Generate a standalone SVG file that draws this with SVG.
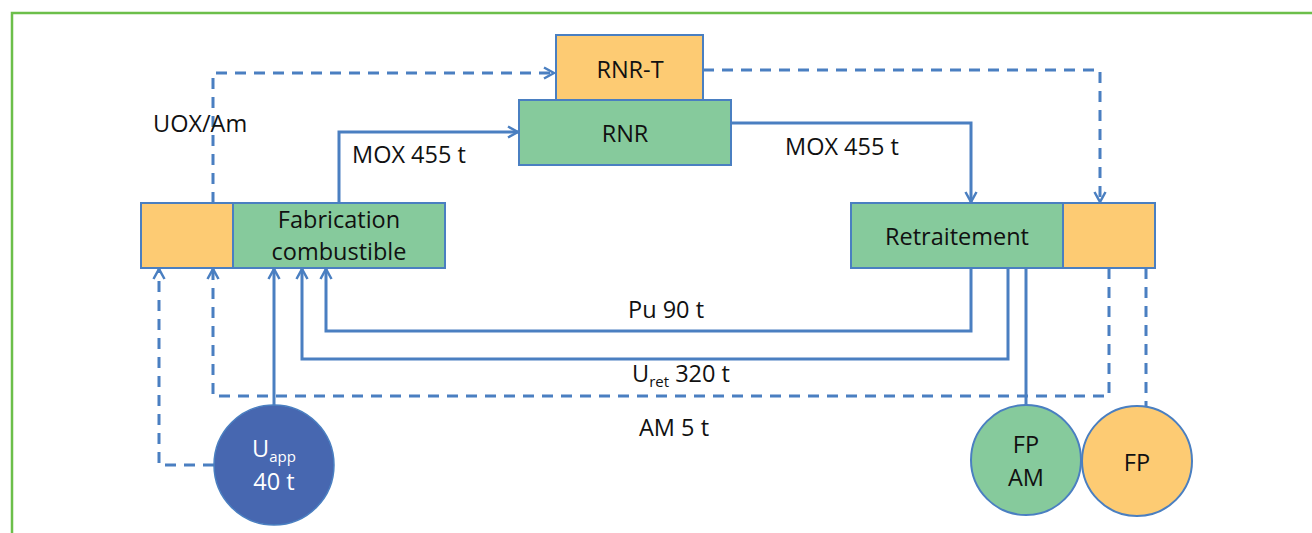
<svg xmlns="http://www.w3.org/2000/svg" width="1312" height="533" viewBox="0 0 1312 533">
<style>
.t{font-family:"Open Sans","Liberation Sans",sans-serif;font-size:23.5px;fill:#111}
.tw{font-family:"Open Sans","Liberation Sans",sans-serif;font-size:23.5px;fill:#fff}
.g{fill:#86ca9c;stroke:#4a7fc1;stroke-width:2}
.o{fill:#fdcb73;stroke:#4a7fc1;stroke-width:2}
.s{fill:none;stroke:#4a7fc1;stroke-width:3}
.d{fill:none;stroke:#4a7fc1;stroke-width:3;stroke-dasharray:11 8}
</style>
<defs>
<marker id="a" viewBox="0 0 14 14" refX="12" refY="7" markerWidth="14" markerHeight="14" markerUnits="userSpaceOnUse" orient="auto">
<path d="M2,1.5 L12,7 L2,12.5" fill="none" stroke="#4a7fc1" stroke-width="2.5"/>
</marker>
</defs>
<rect x="0" y="0" width="1312" height="533" fill="#fff"/>
<path d="M12,533 V13 H1312" fill="none" stroke="#6cbf4a" stroke-width="2.5"/>
<g id="connectors">
<path class="d" d="M213,203 V73 H554" marker-end="url(#a)"/>
<path class="d" d="M703,70 H1100 V202" marker-end="url(#a)"/>
<path class="s" d="M339,203 V132 H518" marker-end="url(#a)"/>
<path class="s" d="M731,123 H971 V202" marker-end="url(#a)"/>
<path class="s" d="M971,268 V331 H326 V269" marker-end="url(#a)"/>
<path class="s" d="M1008,268 V359 H302 V269" marker-end="url(#a)"/>
<path class="d" d="M1109,268 V396 H213 V269" marker-end="url(#a)"/>
<path class="s" d="M274,405 V269" marker-end="url(#a)"/>
<path class="d" d="M214,465 H159 V269" marker-end="url(#a)"/>
<path class="s" d="M1026,268 V405"/>
<path class="d" d="M1146,268 V406"/>
</g>
<g id="fabrication">
<rect class="o" x="141" y="203" width="92" height="65"/>
<rect class="g" x="233" y="203" width="212" height="65"/>
<text class="t" x="339" y="228" text-anchor="middle">Fabrication</text>
<text class="t" x="339" y="260" text-anchor="middle">combustible</text>
</g>
<g id="rnrt">
<rect class="o" x="556" y="35" width="147" height="65"/>
<text class="t" x="630" y="78" text-anchor="middle">RNR-T</text>
</g>
<g id="rnr">
<rect class="g" x="519" y="100" width="212" height="65"/>
<text class="t" x="625" y="142" text-anchor="middle">RNR</text>
</g>
<g id="retraitement">
<rect class="g" x="851" y="203" width="212" height="65"/>
<rect class="o" x="1063" y="203" width="92" height="65"/>
<text class="t" x="957" y="245" text-anchor="middle">Retraitement</text>
</g>
<g id="uapp">
<circle cx="274" cy="465" r="60" fill="#4767b0" stroke="#4a7fc1" stroke-width="1.5"/>
<text class="tw" x="274" y="457" text-anchor="middle">U<tspan font-size="15" dy="5">app</tspan></text>
<text class="tw" x="274" y="490" text-anchor="middle">40 t</text>
</g>
<g id="fpam">
<circle class="g" cx="1026" cy="460" r="55"/>
<text class="t" x="1026" y="453" text-anchor="middle">FP</text>
<text class="t" x="1026" y="486" text-anchor="middle">AM</text>
</g>
<g id="fp">
<circle class="o" cx="1137" cy="461" r="55"/>
<text class="t" x="1137" y="471" text-anchor="middle">FP</text>
</g>
<g id="labels">
<text class="t" x="153" y="132">UOX/Am</text>
<text class="t" x="352" y="163">MOX 455 t</text>
<text class="t" x="785" y="155">MOX 455 t</text>
<text class="t" x="628" y="318">Pu 90 t</text>
<text class="t" x="632" y="382">U<tspan font-size="15" dy="5">ret</tspan><tspan dy="-5"> 320 t</tspan></text>
<text class="t" x="639" y="436">AM 5 t</text>
</g>
</svg>
